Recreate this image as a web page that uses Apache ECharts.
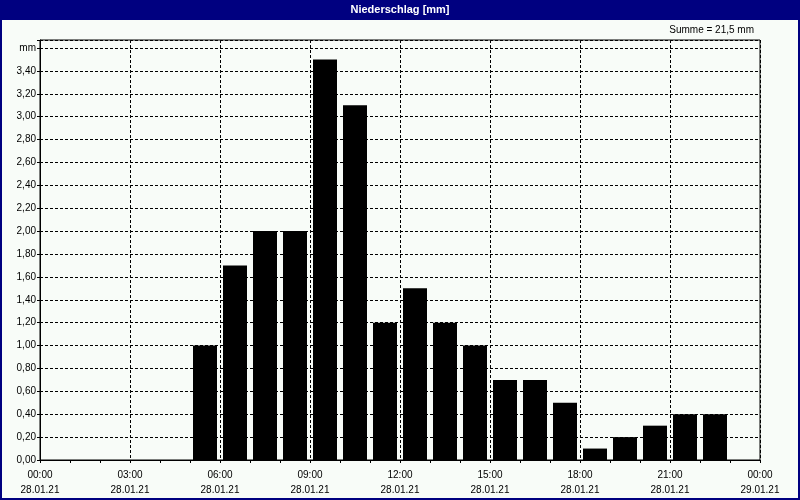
<!DOCTYPE html>
<html>
<head>
<meta charset="utf-8">
<script src="https://cdn.jsdelivr.net/npm/echarts@6/dist/echarts.min.js"></script>
<style>
html,body{margin:0;padding:0;background:#f8fcf8;}
#chart{width:800px;height:500px;}
</style>
</head>
<body>
<div id="chart"></div>
<script>
// Data
var titleText = 'Niederschlag [mm]';
var sumText = 'Summe = 21,5 mm';
var slotStartHours = [5, 6, 7, 8, 9, 10, 11, 12, 13, 14, 15, 16, 17, 18, 19, 20, 21, 22];
var precipitation = [1.0, 1.7, 2.0, 2.0, 3.5, 3.1, 1.2, 1.5, 1.2, 1.0, 0.7, 0.7, 0.5, 0.1, 0.2, 0.3, 0.4, 0.4];
var xTickTimes = ['00:00', '03:00', '06:00', '09:00', '12:00', '15:00', '18:00', '21:00', '00:00'];
var xTickDates = ['28.01.21', '28.01.21', '28.01.21', '28.01.21', '28.01.21', '28.01.21', '28.01.21', '28.01.21', '29.01.21'];
var yUnitLabel = 'mm';

var FONT = "'Liberation Sans', Arial, sans-serif";
var chart = echarts.init(document.getElementById('chart'), null, {renderer: 'canvas'});

var barData = slotStartHours.map(function (h, i) { return [h + 0.5, precipitation[i]]; });

chart.setOption({
  backgroundColor: '#f8fcf8',
  animation: false,
  graphic: [
    {type: 'rect', z: 0, shape: {x: 0, y: 0, width: 800, height: 20}, style: {fill: '#000080'}},
    {type: 'rect', z: 0, shape: {x: 1, y: 1, width: 798, height: 498}, style: {fill: null, stroke: '#000080', lineWidth: 2}},
    {type: 'text', z: 10, right: 46, top: 25, style: {text: sumText, fill: '#000', font: '10px ' + FONT}}
  ],
  title: {
    text: titleText,
    left: 'center',
    top: 4,
    padding: 0,
    textStyle: {color: '#fff', fontWeight: 'bold', fontSize: 11, fontFamily: FONT}
  },
  grid: {
    left: 40, right: 40, top: 40, bottom: 40,
    show: true, borderColor: '#000', borderWidth: 1, backgroundColor: 'transparent'
  },
  xAxis: {
    type: 'value',
    min: 0, max: 24, interval: 3,
    axisLine: {show: true, lineStyle: {color: '#000', width: 1}},
    axisTick: {show: true, length: 3, lineStyle: {color: '#000'}},
    minorTick: {show: true, splitNumber: 3, length: 3, lineStyle: {color: '#000'}},
    splitLine: {show: true, lineStyle: {color: '#000', type: [3, 2], width: 1}},
    axisLabel: {
      margin: 8,
      color: '#000',
      fontSize: 10,
      fontFamily: FONT,
      lineHeight: 15,
      formatter: function (v) {
        var i = Math.round(v / 3);
        return xTickTimes[i] + '\n' + xTickDates[i];
      }
    }
  },
  yAxis: {
    type: 'value',
    min: 0, max: 3.67, interval: 0.2,
    axisLine: {show: true, lineStyle: {color: '#000', width: 1}},
    axisTick: {show: true, length: 3, lineStyle: {color: '#000'}},
    splitLine: {show: true, lineStyle: {color: '#000', type: [3, 2], width: 1}},
    axisLabel: {
      margin: 4,
      color: '#000',
      fontSize: 10,
      fontFamily: FONT,
      showMaxLabel: true,
      formatter: function (v) {
        var k = Math.round(v / 0.2);
        if (Math.abs(k * 0.2 - v) > 1e-6) return '';
        if (k === 18) return yUnitLabel;
        return v.toFixed(2).replace('.', ',');
      }
    }
  },
  series: [{
    type: 'bar',
    data: barData,
    barWidth: 24,
    itemStyle: {color: '#000000'},
    z: 3
  }]
});
</script>
</body>
</html>
